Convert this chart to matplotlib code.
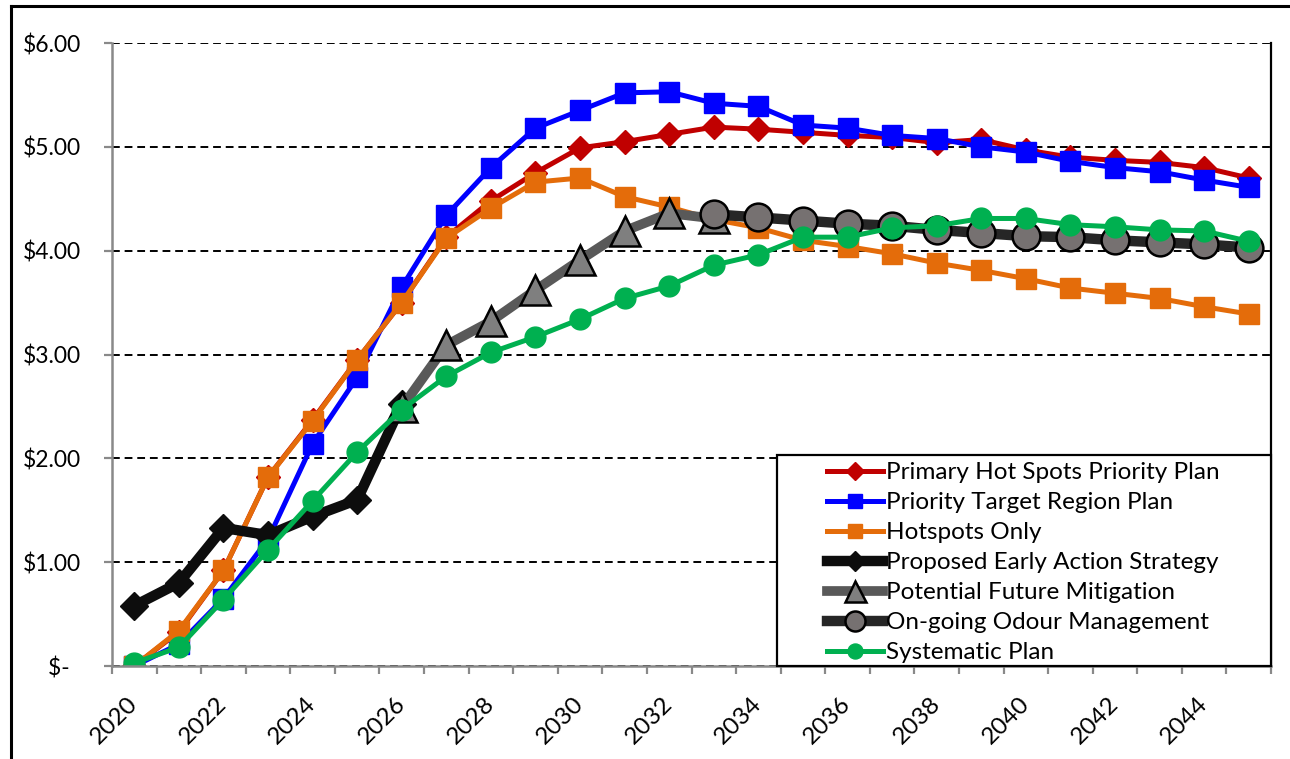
import numpy as np
import matplotlib.pyplot as plt
from matplotlib.patches import Rectangle
from matplotlib.lines import Line2D

plt.rcParams['font.family'] = ['Lato', 'DejaVu Sans']

# ------------------------------------------------------------
# data
# ------------------------------------------------------------
years = list(range(2020, 2046))
nan = np.nan

primary_hot_spots = [0.00, 0.33, 0.92, 1.82, 2.37, 2.95, 3.50, 4.13, 4.48, 4.75,
                     4.99, 5.05, 5.12, 5.19, 5.17, 5.14, 5.11, 5.09, 5.04, 5.07,
                     4.97, 4.90, 4.87, 4.85, 4.80, 4.70]
priority_target = [0.00, 0.21, 0.65, 1.22, 2.14, 2.78, 3.65, 4.34, 4.80, 5.18,
                   5.35, 5.52, 5.53, 5.42, 5.39, 5.21, 5.18, 5.11, 5.08, 5.00,
                   4.95, 4.86, 4.80, 4.76, 4.68, 4.61]
hotspots_only = [0.00, 0.34, 0.92, 1.82, 2.36, 2.95, 3.50, 4.12, 4.41, 4.66,
                 4.70, 4.52, 4.42, 4.30, 4.22, 4.10, 4.04, 3.97, 3.88, 3.81,
                 3.73, 3.64, 3.59, 3.54, 3.46, 3.39]
early_action = [0.58, 0.80, 1.33, 1.26, 1.44, 1.60, 2.52] + [nan] * 19
future_mitigation = [nan] * 6 + [2.49, 3.09, 3.32, 3.62, 3.91, 4.19, 4.36, 4.31] + [nan] * 12
odour_management = [nan] * 13 + [4.35, 4.32, 4.29, 4.26, 4.24, 4.20, 4.17, 4.14,
                                 4.13, 4.10, 4.08, 4.06, 4.03]
systematic = [0.03, 0.18, 0.64, 1.12, 1.59, 2.06, 2.47, 2.79, 3.02, 3.17,
              3.34, 3.54, 3.66, 3.86, 3.96, 4.13, 4.13, 4.22, 4.24, 4.31,
              4.31, 4.25, 4.23, 4.20, 4.19, 4.09]

y_ticks = [0, 1, 2, 3, 4, 5, 6]
y_labels = ["$-  ", "$1.00", "$2.00", "$3.00", "$4.00", "$5.00", "$6.00"]

# ------------------------------------------------------------
# figure
# ------------------------------------------------------------
W, H = 1290, 759
fig = plt.figure(figsize=(W / 100, H / 100), dpi=100)
ax = fig.add_axes([112 / W, 93 / H, (1271 - 112) / W, (666 - 43) / H])

x = np.arange(len(years))

l1, = ax.plot(x, primary_hot_spots, color="#C00000", lw=3.6, marker="D", ms=12.5,
              mec="#C00000", label="Primary Hot Spots Priority Plan")
l2, = ax.plot(x, priority_target, color="#0000FF", lw=3.6, marker="s", ms=14,
              mec="#0000FF", label="Priority Target Region Plan")
l3, = ax.plot(x, hotspots_only, color="#E46C0A", lw=3.6, marker="s", ms=14,
              mec="#E46C0A", label="Hotspots Only")
l4, = ax.plot(x, early_action, color="#0D0D0D", lw=7.5, marker="D", ms=14,
              mec="#0D0D0D", label="Proposed Early Action Strategy")
l5, = ax.plot(x, future_mitigation, color="#595959", lw=7, marker="^", ms=21,
              mfc="#7F7F7F", mec="black", mew=1.8, label="Potential Future Mitigation")
l6, = ax.plot(x, odour_management, color="#262626", lw=7.5, marker="o", ms=20,
              mfc="#767171", mec="black", mew=1.8, label="On-going Odour Management")
l7, = ax.plot(x, systematic, color="#00B050", lw=3.6, marker="o", ms=15,
              mec="#00B050", label="Systematic Plan")

# axes styling
ax.set_xlim(-0.5, len(years) - 0.5)
ax.set_ylim(0, 6)
ax.set_axisbelow(True)
ax.yaxis.grid(True, color="black", linestyle=(0, (4, 2.5)), linewidth=1.4)

for s in ["left", "bottom"]:
    ax.spines[s].set_color("#898989")
    ax.spines[s].set_linewidth(1.8)
ax.spines["top"].set_visible(False)
ax.spines["right"].set_color("black")
ax.spines["right"].set_linewidth(1.6)

ax.set_yticks(y_ticks)
ax.set_yticklabels(y_labels, fontsize=16.5)
ax.tick_params(axis="y", direction="out", length=6, width=1.6, color="#898989", pad=16)

# category axis: tick marks between categories, labels every other year
ax.set_xticks(np.arange(-0.5, len(years), 1))
ax.set_xticklabels([])
ax.tick_params(axis="x", which="major", direction="out", length=6, width=1.6, color="#898989")
ax.set_xticks(x[::2], minor=True)
ax.set_xticklabels([str(y) for y in years[::2]], minor=True, fontsize=17.5,
                   rotation=45, ha="right", va="center", rotation_mode="anchor")
ax.tick_params(axis="x", which="minor", length=0, pad=25)

# legend with its own frame
ax.add_patch(Rectangle((777 / W, 93 / H), (1271 - 777) / W, (666 - 455) / H,
                       transform=fig.transFigure, facecolor="white", edgecolor="black",
                       lw=1.6, clip_on=False, zorder=4))
leg = ax.legend(handles=[l1, l2, l3, l4, l5, l6, l7], loc="upper left",
                bbox_to_anchor=(827 / W, 1 - 462 / H), bbox_transform=fig.transFigure,
                frameon=False, borderpad=0, handlelength=2.3, handletextpad=0.12,
                labelspacing=0.37, fontsize=17.5, borderaxespad=0, markerscale=0.72)
leg.set_zorder(5)

# outer chart frame (cropped)
fig.add_artist(Line2D([11 / W, 11 / W], [0, 1 - 6 / H], transform=fig.transFigure,
                      color="black", lw=2.2))
fig.add_artist(Line2D([11 / W, 1], [1 - 6 / H, 1 - 6 / H], transform=fig.transFigure,
                      color="black", lw=2.2))

fig.savefig("out.png", dpi=100)
